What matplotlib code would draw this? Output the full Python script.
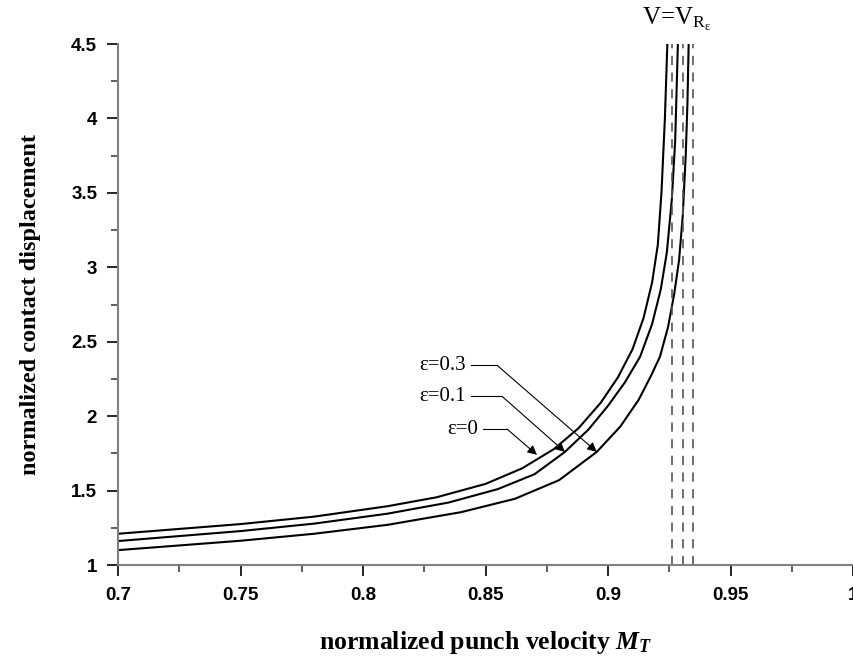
import numpy as np
import matplotlib
matplotlib.use("Agg")
import matplotlib.pyplot as plt
from matplotlib.ticker import MultipleLocator, FormatStrFormatter

plt.rcParams['mathtext.fontset'] = 'custom'
plt.rcParams['mathtext.rm'] = 'Liberation Serif'
plt.rcParams['mathtext.it'] = 'Liberation Serif:italic:bold'

# curves (normalized punch velocity, normalized contact displacement)
m_eps0 = [0.700, 0.750, 0.780, 0.810, 0.830, 0.850, 0.865, 0.878, 0.888, 0.897, 0.904, 0.910,
          0.9145, 0.918, 0.9203, 0.9218, 0.9232, 0.9242]
u_eps0 = [1.210, 1.275, 1.325, 1.395, 1.455, 1.545, 1.650, 1.780, 1.920, 2.090, 2.260, 2.450,
          2.660, 2.900, 3.150, 3.500, 4.000, 4.500]

m_eps01 = [0.700, 0.750, 0.780, 0.810, 0.835, 0.855, 0.870, 0.8824, 0.892, 0.900, 0.907, 0.9131,
           0.918, 0.9215, 0.924, 0.926, 0.9274, 0.928, 0.9285]
u_eps01 = [1.161, 1.228, 1.278, 1.345, 1.420, 1.510, 1.610, 1.760, 1.910, 2.070, 2.230, 2.400,
           2.620, 2.850, 3.100, 3.450, 3.850, 4.200, 4.500]

m_eps03 = [0.700, 0.750, 0.780, 0.810, 0.840, 0.862, 0.880, 0.8954, 0.905, 0.9125, 0.9175, 0.9212,
           0.9245, 0.927, 0.929, 0.9305, 0.9317, 0.9324, 0.9329]
u_eps03 = [1.100, 1.163, 1.210, 1.270, 1.355, 1.445, 1.570, 1.760, 1.930, 2.110, 2.270, 2.400,
           2.600, 2.820, 3.050, 3.350, 3.750, 4.100, 4.500]

# asymptotes V = V_R(eps)
v_r = [0.9262, 0.9305, 0.9347]

eps_labels = ['ε=0', 'ε=0.1', 'ε=0.3']
tips = [(0.871, 1.74), (0.8824, 1.76), (0.8954, 1.76)]
elbows = [(0.8588, 1.913), (0.8567, 2.134), (0.8547, 2.342)]
starts = [0.849, 0.844, 0.844]

fig = plt.figure(figsize=(8.54, 6.57), dpi=100)
ax = fig.add_axes([0.1382, 0.1400, 0.8607, 0.7930])

for m, u in [(m_eps0, u_eps0), (m_eps01, u_eps01), (m_eps03, u_eps03)]:
    ax.plot(m, u, color='black', lw=1.5)

for v in v_r:
    ax.axvline(v, color='#555555', lw=1.2, dashes=(5.5, 4.5))

for lab, tip, elb, st in zip(eps_labels, tips, elbows, starts):
    ax.plot([st, elb[0]], [elb[1], elb[1]], color='black', lw=0.8)
    ax.annotate('', xy=tip, xytext=elb,
                arrowprops=dict(arrowstyle='-|>', color='black', lw=0.8,
                                mutation_scale=14, shrinkA=0, shrinkB=0))
    ax.text(st - 0.002, elb[1], lab, ha='right', va='center',
            fontfamily='Liberation Serif', fontsize=15)

ax.text(0.928, 4.627, r'V=V$_{\mathrm{R}_{\mathrm{ε}}}$', ha='center', va='baseline',
        fontfamily='Liberation Serif', fontsize=18, clip_on=False)

ax.set_xlim(0.7, 1.0)
ax.set_ylim(1, 4.5)
ax.xaxis.set_major_locator(MultipleLocator(0.05))
ax.xaxis.set_minor_locator(MultipleLocator(0.025))
ax.yaxis.set_major_locator(MultipleLocator(0.5))
ax.yaxis.set_minor_locator(MultipleLocator(0.25))
ax.xaxis.set_major_formatter(FormatStrFormatter('%g'))
ax.yaxis.set_major_formatter(FormatStrFormatter('%g'))

for s in ['top', 'right']:
    ax.spines[s].set_visible(False)
for s in ['left', 'bottom']:
    ax.spines[s].set_color('#808080')
    ax.spines[s].set_linewidth(1.5)

ax.tick_params(which='major', direction='out', length=8, width=1.2, color='black')
ax.tick_params(which='minor', direction='out', length=5, width=1.2, color='#444444')
ax.tick_params(axis='x', pad=8)
ax.tick_params(axis='y', pad=7)
for t in ax.get_xticklabels() + ax.get_yticklabels():
    t.set_fontfamily('Liberation Sans')
    t.set_fontweight('bold')
    t.set_fontsize(13.5)

ax.set_xlabel(r'normalized punch velocity $M_T$', fontfamily='Liberation Serif',
              fontweight='bold', fontsize=18.5, labelpad=18)
ax.set_ylabel('normalized contact displacement', fontfamily='Liberation Serif',
              fontweight='bold', fontsize=17.5, labelpad=22)

fig.savefig('out.png', dpi=100)
